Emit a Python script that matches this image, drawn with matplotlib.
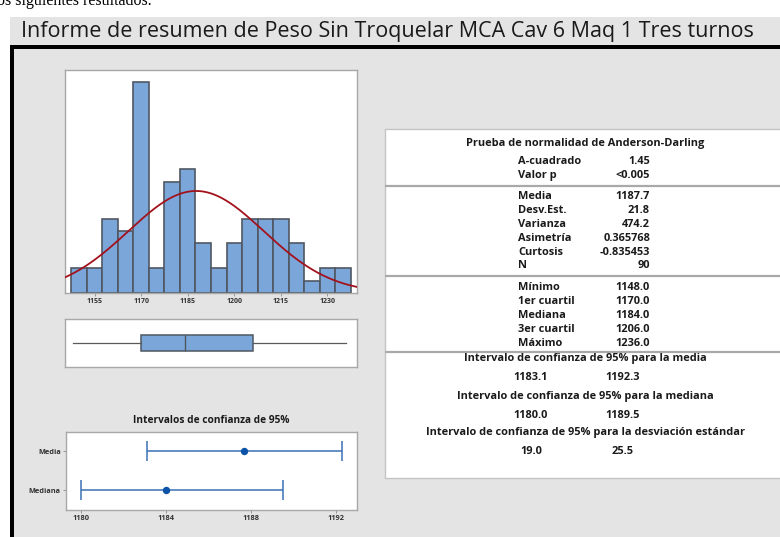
import numpy as np
import matplotlib
matplotlib.use('Agg')
import matplotlib.pyplot as plt
from matplotlib.patches import Rectangle

# ---------------- data ----------------
bin_centers = [1150, 1155, 1160, 1165, 1170, 1175, 1180, 1185, 1190,
               1195, 1200, 1205, 1210, 1215, 1220, 1225, 1230, 1235]
counts = [2, 2, 6, 5, 17, 2, 9, 10, 4, 2, 4, 6, 6, 6, 4, 1, 2, 2]
bin_width = 5
mean_val = 1187.7
sd_val = 21.8
n_val = 90
hist_ticks = [1155, 1170, 1185, 1200, 1215, 1230]

box_min, box_q1, box_med, box_q3, box_max = 1148.0, 1170.0, 1184.0, 1206.0, 1236.0

ci_labels = ['Media', 'Mediana']
ci_centers = [1187.7, 1184.0]
ci_low = [1183.1, 1180.0]
ci_high = [1192.3, 1189.5]
ci_ticks = [1180, 1184, 1188, 1192]

title = 'Informe de resumen de Peso Sin Troquelar MCA Cav 6 Maq 1 Tres turnos'
ad_title = 'Prueba de normalidad de Anderson-Darling'
ad_rows = [('A-cuadrado', '1.45'), ('Valor p', '<0.005')]
desc_rows = [('Media', '1187.7'), ('Desv.Est.', '21.8'), ('Varianza', '474.2'),
             ('Asimetría', '0.365768'), ('Curtosis', '-0.835453'), ('N', '90')]
quant_rows = [('Mínimo', '1148.0'), ('1er cuartil', '1170.0'), ('Mediana', '1184.0'),
              ('3er cuartil', '1206.0'), ('Máximo', '1236.0')]
ci_sections = [('Intervalo de confianza de 95% para la media', '1183.1', '1192.3'),
               ('Intervalo de confianza de 95% para la mediana', '1180.0', '1189.5'),
               ('Intervalo de confianza de 95% para la desviación estándar', '19.0', '25.5')]

# ---------------- style ----------------
FONT = 'Open Sans'
plt.rcParams['font.family'] = [FONT, 'DejaVu Sans']
W, H = 780, 537
BG = '#e4e4e4'
FILL = '#7ba6da'
EDGE = '#4f5762'
FRAME = '#a8a8a8'
TXT = '#1a1a1a'
BOLD = 'bold'

fig = plt.figure(figsize=(W / 100, H / 100), dpi=100)
fig.patch.set_facecolor('white')

def px_axes(x0, y0, x1, y1, **kw):
    return fig.add_axes([x0 / W, 1 - y1 / H, (x1 - x0) / W, (y1 - y0) / H], **kw)

bg = fig.add_axes([0, 0, 1, 1])
bg.set_xlim(0, W)
bg.set_ylim(H, 0)
bg.axis('off')
# title strip
bg.add_patch(Rectangle((10, 17), W - 10, 30, facecolor=BG, edgecolor='none'))
# inner area
bg.add_patch(Rectangle((14, 49), W - 14, H - 49, facecolor=BG, edgecolor='none'))
# black border
bg.add_patch(Rectangle((10, 45), W - 10, 4, facecolor='black', edgecolor='none'))
bg.add_patch(Rectangle((10, 45), 4, H - 45, facecolor='black', edgecolor='none'))
# table panel
bg.add_patch(Rectangle((385, 129), W - 385 + 2, 349, facecolor='white',
                       edgecolor='#c4c4c4', linewidth=1))
for ysep in (185.5, 275.5, 351.5):
    bg.plot([385, W], [ysep, ysep], color='#a9a9a9', linewidth=1.6, solid_capstyle='butt')

# cut-off text at the very top
bg.text(-3, 5, 'os siguientes resultados.', family='Liberation Serif', fontsize=11.5,
        va='baseline', ha='left', color='black', clip_on=False)

bg.text(21, 31, title, fontsize=15.5, ha='left', va='center', color=TXT)

# table texts
fs_tab = 7.9
bg.text(585, 143.5, ad_title, fontsize=fs_tab, ha='center', va='center', color=TXT, fontweight=BOLD)
lab_x, val_x = 518, 650
def rows(items, y0, dy):
    for i, (lab, val) in enumerate(items):
        y = y0 + i * dy
        bg.text(lab_x, y, lab, fontsize=fs_tab, ha='left', va='center', color=TXT, fontweight=BOLD)
        bg.text(val_x, y, val, fontsize=fs_tab, ha='right', va='center', color=TXT, fontweight=BOLD)
rows(ad_rows, 162, 13.5)
rows(desc_rows, 196.5, 13.9)
rows(quant_rows, 287, 14.0)
for i, (t, a, b) in enumerate(ci_sections):
    y = 359 + i * 37
    bg.text(585, y, t, fontsize=fs_tab, ha='center', va='center', color=TXT, fontweight=BOLD)
    bg.text(531, y + 19, a, fontsize=fs_tab, ha='center', va='center', color=TXT, fontweight=BOLD)
    bg.text(623, y + 19, b, fontsize=fs_tab, ha='center', va='center', color=TXT, fontweight=BOLD)

def style_frame(ax):
    for s in ax.spines.values():
        s.set_color(FRAME)
        s.set_linewidth(1.0)
    ax.set_facecolor('white')

# ---------------- histogram ----------------
ax = px_axes(65, 70, 357, 293)
style_frame(ax)
ax.bar(bin_centers, counts, width=bin_width, color=FILL, edgecolor=EDGE, linewidth=1.2, zorder=2)
xx = np.linspace(1145.5, 1239.5, 400)
yy = n_val * bin_width * np.exp(-0.5 * ((xx - mean_val) / sd_val) ** 2) / (sd_val * np.sqrt(2 * np.pi))
ax.plot(xx, yy, color='#a3121c', linewidth=1.3, zorder=3)
ax.set_xlim(1145.5, 1239.5)
ax.set_ylim(0, 18)
ax.set_yticks([])
ax.set_xticks(hist_ticks)
ax.set_xticklabels([str(t) for t in hist_ticks], fontsize=5, fontweight=BOLD, color='#333333')
ax.tick_params(axis='x', length=2, width=0.6, color='#888888', pad=1.5)

# ---------------- boxplot ----------------
axb = px_axes(65, 319, 357, 367)
style_frame(axb)
stats = [{'med': box_med, 'q1': box_q1, 'q3': box_q3, 'whislo': box_min, 'whishi': box_max, 'fliers': []}]
axb.bxp(stats, positions=[1], widths=0.35, vert=False, patch_artist=True, showcaps=False,
        boxprops=dict(facecolor=FILL, edgecolor=EDGE, linewidth=1.1),
        medianprops=dict(color=EDGE, linewidth=1.0),
        whiskerprops=dict(color='#5a5a5a', linewidth=0.9))
axb.set_xlim(1145.5, 1239.5)
axb.set_ylim(0.5, 1.5)
axb.set_xticks([])
axb.set_yticks([])

# ---------------- CI plot ----------------
axc = px_axes(65.7, 431.7, 357.3, 510)
style_frame(axc)
ypos = [1, 0]
for yv, c, lo, hi in zip(ypos, ci_centers, ci_low, ci_high):
    axc.errorbar([c], [yv], xerr=[[c - lo], [hi - c]], fmt='o', color='#2d66ad',
                 ecolor='#3a70b5', elinewidth=1.1, capsize=7.5, capthick=1.1,
                 markersize=4.3, markerfacecolor='#0c52a6', markeredgecolor='#0c52a6')
axc.set_xlim(1179.3, 1193.0)
axc.set_ylim(-0.5, 1.5)
axc.set_yticks(ypos)
axc.set_yticklabels(ci_labels, fontsize=5.3, fontweight=BOLD, color='#333333')
axc.set_xticks(ci_ticks)
axc.set_xticklabels([str(t) for t in ci_ticks], fontsize=5.3, fontweight=BOLD, color='#333333')
axc.tick_params(length=2, width=0.6, color='#888888', pad=1.5)
bg.text(211, 420.5, 'Intervalos de confianza de 95%', fontsize=7.3, ha='center', va='center',
        color=TXT, fontweight=BOLD)

fig.savefig('out.png', dpi=100, facecolor='white')
